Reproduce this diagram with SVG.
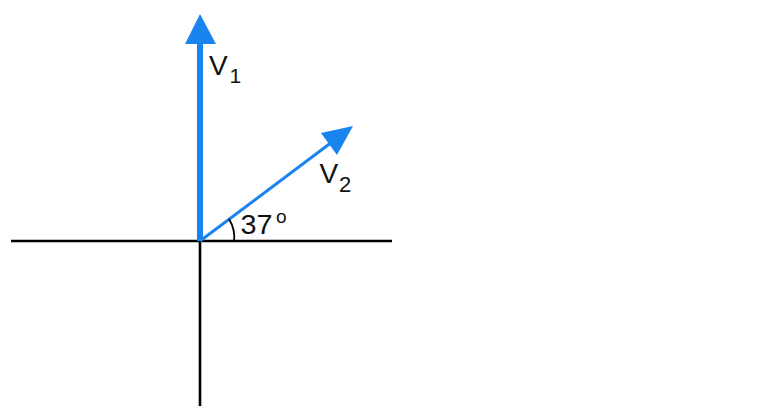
<svg xmlns="http://www.w3.org/2000/svg" width="762" height="406" viewBox="0 0 762 406">
<style>
.axis{stroke:#000;stroke-width:2.6;fill:none}
.vec{stroke:#1a84ee;fill:none}
.head{fill:#1a84ee}
.lbl{font-family:"Liberation Sans",Arial,sans-serif;fill:#111}
</style>
<rect width="762" height="406" fill="#fff"/>
<g id="axes">
<line class="axis" x1="11" y1="241" x2="392" y2="241"/>
<line class="axis" x1="200" y1="241" x2="200" y2="406"/>
</g>
<g id="connectors">
<g id="v1">
<line class="vec" x1="200" y1="241" x2="200" y2="40" stroke-width="6"/>
<polygon class="head" points="200,14 185,44 216,44"/>
</g>
<g id="v2">
<line class="vec" x1="200" y1="241" x2="332" y2="142" stroke-width="3"/>
<polygon class="head" points="353,126 321,133 337,155"/>
</g>
</g>
<g id="angle">
<path d="M229,219 A35,35 0 0 1 234,242" fill="none" stroke="#000" stroke-width="1.8"/>
<text class="lbl" x="240.5" y="234" font-size="27" textLength="32" lengthAdjust="spacingAndGlyphs">37</text>
<text class="lbl" x="276" y="223" font-size="19">o</text>
</g>
<g id="label-v1">
<text class="lbl" x="209" y="75" font-size="28">V</text>
<text class="lbl" x="229.5" y="83" font-size="21">1</text>
</g>
<g id="label-v2">
<text class="lbl" x="319.5" y="183" font-size="28">V</text>
<text class="lbl" x="339" y="192" font-size="22">2</text>
</g>
</svg>
